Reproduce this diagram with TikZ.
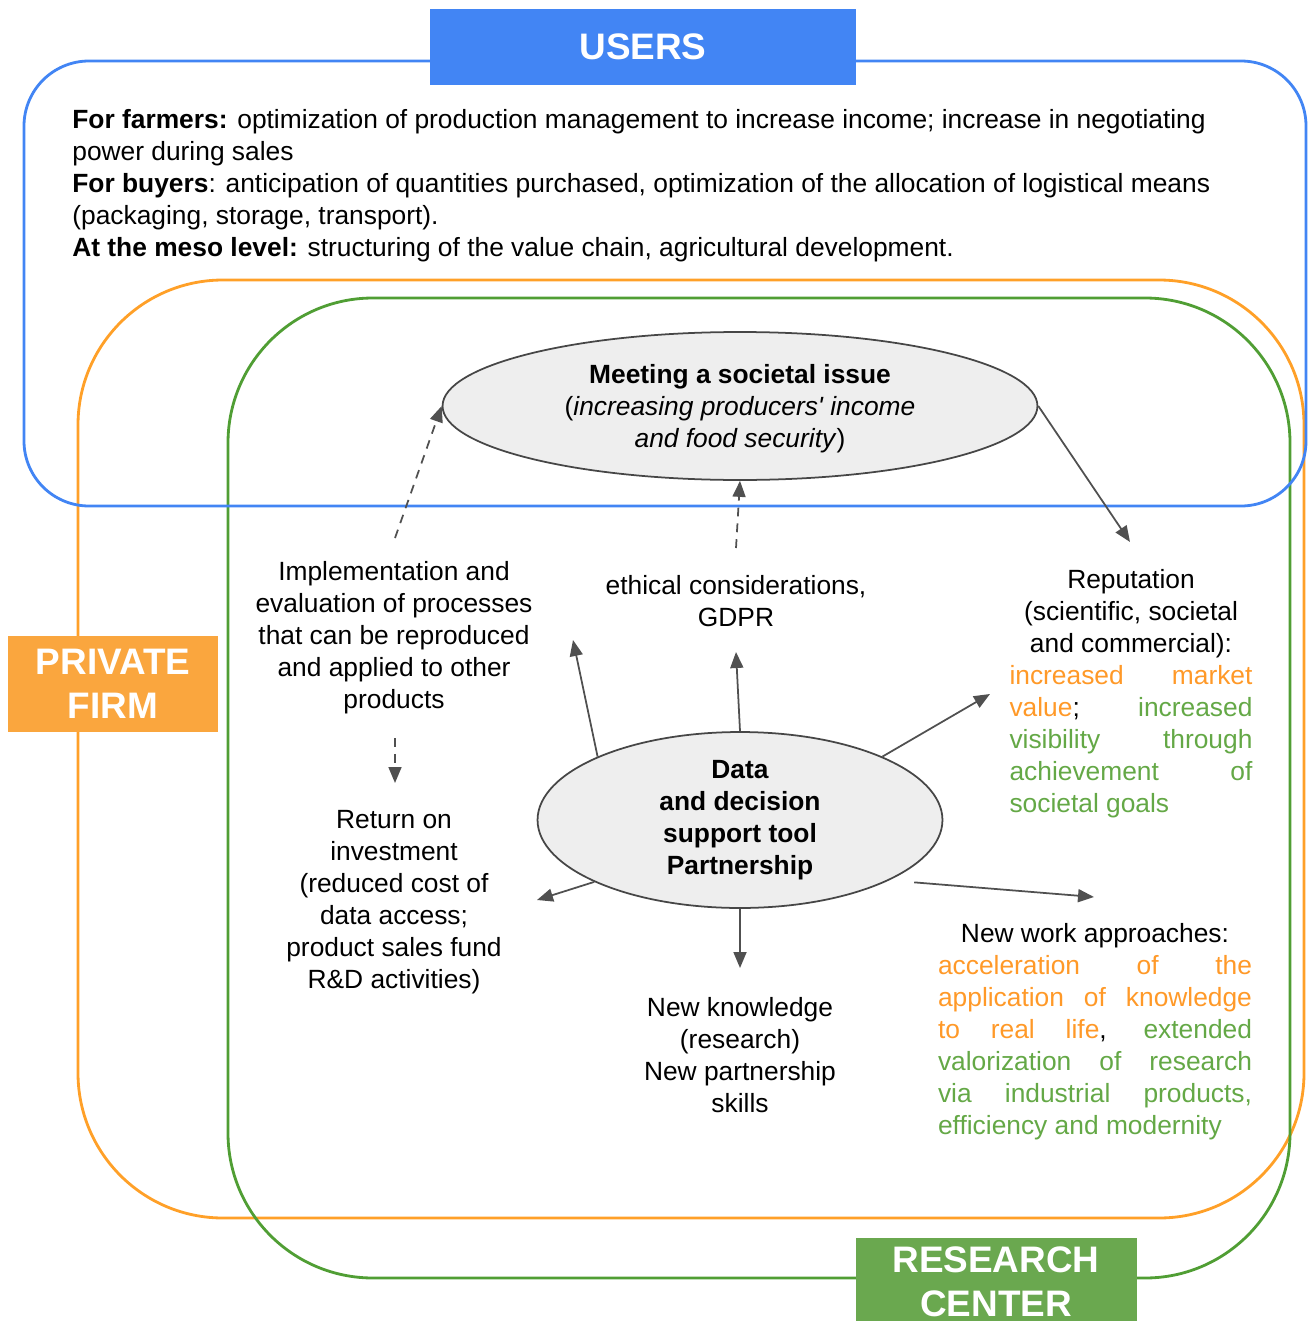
\documentclass[tikz,border=0pt]{standalone}
\usepackage{fontspec}
\setmainfont{Liberation Sans}
\newfontfamily\rawfont{Liberation Sans}
\usepackage{xcolor}
\usetikzlibrary{arrows.meta,positioning,shapes.geometric}

\definecolor{usersblue}{RGB}{66,133,244}
\definecolor{firmline}{RGB}{255,160,40}
\definecolor{firmfill}{RGB}{250,166,62}
\definecolor{firmtext}{RGB}{255,153,40}
\definecolor{labline}{RGB}{80,158,52}
\definecolor{labfill}{RGB}{106,168,79}
\definecolor{labtext}{RGB}{100,168,70}
\definecolor{bubblegray}{RGB}{238,238,238}
\definecolor{edgegray}{RGB}{70,70,70}
\definecolor{linkgray}{RGB}{80,80,80}

\newcommand{\bodyfont}{\fontsize{15}{18.2}\selectfont}
\newcommand{\tagfont}{\fontsize{21}{25}\selectfont\bfseries}
% one stretched line of a justified block
\newcommand{\jline}[2]{\makebox[#1][s]{#2}}
\newcommand{\orng}[1]{\textcolor{firmtext}{#1}}
\newcommand{\grn}[1]{\textcolor{labtext}{#1}}

\tikzset{
  frame/.style={line width=1.6pt, rounded corners=2.9cm},
  bubble/.style={ellipse, draw=edgegray, line width=1pt, fill=bubblegray,
    inner sep=0pt, align=center, font=\bodyfont\bfseries},
  tag/.style={text=white, font=\tagfont, align=center, inner sep=0pt},
  txt/.style={align=center, font=\bodyfont, inner sep=0pt},
  link/.style={draw=linkgray, line width=1pt,
    -{Triangle[length=0.32cm,width=0.26cm]}},
  dashlink/.style={link, dash pattern=on 5pt off 4pt},
}

\begin{document}
\begin{tikzpicture}[x=0.02cm, y=-0.02cm]
\useasboundingbox (0,0) rectangle (1309,1321);

% Actor frames
\draw[frame, draw=firmline] (78,280) rectangle (1304,1218);
\draw[frame, draw=labline] (228,298) rectangle (1290,1278);
\draw[frame, draw=usersblue, rounded corners=1.3cm] (24,61) rectangle (1306,506);

% Actor tags
\node[tag, fill=usersblue, minimum width=8.52cm, minimum height=1.52cm] (users) at (643,47) {USERS};
\node[tag, fill=firmfill, minimum width=4.2cm, minimum height=1.92cm] (firm) at (113,684) {PRIVATE\\FIRM};
\fill[labfill] (856,1238) rectangle (1137,1330);
\node[tag] (lab) at (996,1282) {RESEARCH\\CENTER};

% Users benefits
\node[txt, align=left, anchor=west] (benefits) at (72,186) {%
\textbf{For farmers:} optimization of production management to increase income; increase in negotiating\\
power during sales\\
\textbf{For buyers}: anticipation of quantities purchased, optimization of the allocation of logistical means\\
(packaging, storage, transport).\\
\textbf{At the meso level:} structuring of the value chain, agricultural development.};

% Ellipses
\node[bubble, minimum width=11.9cm, minimum height=2.96cm] (meet) at (740,406)
  {\rule{0pt}{0.5cm}Meeting a societal issue\\\normalfont\bodyfont(\textit{increasing producers{\rawfont\itshape'} income}\\\normalfont\bodyfont\textit{and food security})};
\node[bubble, minimum width=8.1cm, minimum height=3.52cm] (data) at (740,820)
  {Data\\and decision\\support tool\\Partnership};

% Outcomes
\node[txt] (impl) at (394,638) {Implementation and\\evaluation of processes\\that can be reproduced\\and applied to other\\products};
\node[txt] (ethic) at (736,601) {ethical considerations,\\GDPR};
\node[txt] (repu) at (1131,694) {Reputation\\(scientific, societal\\and commercial):\\
  \jline{4.86cm}{\orng{increased market}}\\
  \jline{4.86cm}{\orng{value}; \grn{increased}}\\
  \jline{4.86cm}{\grn{visibility through}}\\
  \jline{4.86cm}{\grn{achievement of}}\\
  \makebox[4.86cm][l]{\grn{societal goals}}};
\node[txt] (roi) at (394,902) {Return on\\investment\\(reduced cost of\\data access;\\product sales fund\\R\&D activities)};
\node[txt] (know) at (740,1055) {New knowledge\\(research)\\New partnership\\skills};
\node[txt] (work) at (1095,1032) {New work approaches:\\
  \jline{6.28cm}{\orng{acceleration of the}}\\
  \jline{6.28cm}{\orng{application of knowledge}}\\
  \jline{6.28cm}{\orng{to real life}, \grn{extended}}\\
  \jline{6.28cm}{\grn{valorization of research}}\\
  \jline{6.28cm}{\grn{via industrial products,}}\\
  \makebox[6.28cm][l]{\grn{efficiency and modernity}}};

% Free arrow ends
\coordinate (implTop) at (395,538);
\coordinate (ethTop) at (736,548);
\coordinate (repTop) at (1130,542);
\coordinate (implEnd) at (573,640);
\coordinate (ethEnd) at (736,652);
\coordinate (repEnd) at (990,694);
\coordinate (implBot) at (395,738);
\coordinate (roiTop) at (395,783);
\coordinate (roiEnd) at (537,900);
\coordinate (knowEnd) at (740,968);
\coordinate (workEnd) at (1094,897);

% Links
\draw[dashlink] (implTop) -- (meet.west);
\draw[dashlink] (ethTop) -- (meet.south);
\draw[link] (meet.east) -- (repTop);
\draw[link] (data.156) -- (implEnd);
\draw[link] (data.north) -- (ethEnd);
\draw[link] (data.24) -- (repEnd);
\draw[dashlink] (implBot) -- (roiTop);
\draw[link] (data.203) -- (roiEnd);
\draw[link] (data.south) -- (knowEnd);
\draw[link, shorten <=0.5cm] (data.338) -- (workEnd);

\end{tikzpicture}
\end{document}
